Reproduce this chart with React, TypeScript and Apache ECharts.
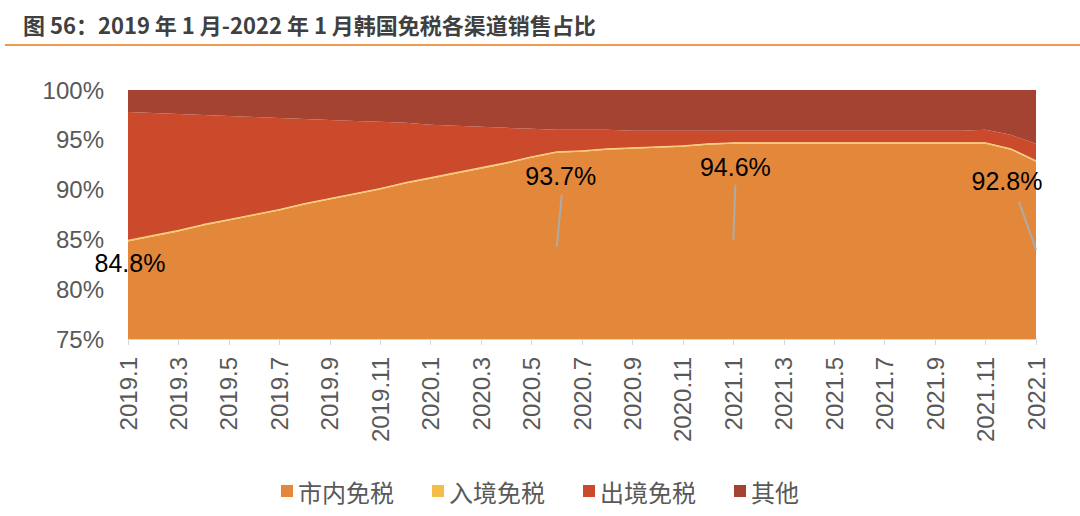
import React, { useEffect, useRef } from "react";
import * as echarts from "echarts";

const months: string[] = [
  "2019.1", "2019.2", "2019.3", "2019.4", "2019.5", "2019.6", "2019.7", "2019.8", "2019.9", "2019.10", "2019.11", "2019.12",
  "2020.1", "2020.2", "2020.3", "2020.4", "2020.5", "2020.6", "2020.7", "2020.8", "2020.9", "2020.10", "2020.11", "2020.12",
  "2021.1", "2021.2", "2021.3", "2021.4", "2021.5", "2021.6", "2021.7", "2021.8", "2021.9", "2021.10", "2021.11", "2021.12",
  "2022.1",
];

const cityDutyFree: number[] = [
  84.8, 85.3, 85.8, 86.4, 86.9, 87.4, 87.9, 88.5, 89.0, 89.5, 90.0, 90.6,
  91.1, 91.6, 92.1, 92.6, 93.2, 93.7, 93.8, 94.0, 94.1, 94.2, 94.3, 94.5,
  94.6, 94.6, 94.6, 94.6, 94.6, 94.6, 94.6, 94.6, 94.6, 94.6, 94.6, 94.0,
  92.8,
];
const arrivalDutyFree: number[] = [
  0.1, 0.1, 0.1, 0.1, 0.1, 0.1, 0.1, 0.1, 0.1, 0.1, 0.1, 0.1,
  0.1, 0.1, 0.1, 0.1, 0.1, 0.1, 0.1, 0.1, 0.1, 0.1, 0.1, 0.1,
  0.1, 0.1, 0.1, 0.1, 0.1, 0.1, 0.1, 0.1, 0.1, 0.1, 0.1, 0.1,
  0.1,
];
const departureDutyFree: number[] = [
  12.9, 12.3, 11.7, 11.0, 10.4, 9.8, 9.2, 8.5, 7.9, 7.3, 6.7, 6.0,
  5.3, 4.7, 4.1, 3.5, 2.8, 2.2, 2.1, 1.9, 1.7, 1.6, 1.5, 1.3,
  1.2, 1.2, 1.2, 1.2, 1.2, 1.2, 1.2, 1.2, 1.2, 1.2, 1.3, 1.4,
  1.7,
];
const others: number[] = [
  2.2, 2.3, 2.4, 2.5, 2.6, 2.7, 2.8, 2.9, 3.0, 3.1, 3.2, 3.3,
  3.5, 3.6, 3.7, 3.8, 3.9, 4.0, 4.0, 4.0, 4.1, 4.1, 4.1, 4.1,
  4.1, 4.1, 4.1, 4.1, 4.1, 4.1, 4.1, 4.1, 4.1, 4.1, 4.0, 4.5,
  5.4,
];

const seriesNames: string[] = ["市内免税", "入境免税", "出境免税", "其他"];
const colors: string[] = ["#E3883B", "#F2BE47", "#CB4A2B", "#A54333"];
const yTicks: number[] = [75, 80, 85, 90, 95, 100];
const labeledIdx: number[] = [0, 17, 24, 36];

const titleText = "图 56：2019 年 1 月-2022 年 1 月韩国免税各渠道销售占比";
const latin = '"Liberation Sans", Arial, "Noto Sans CJK SC", sans-serif';
const cjk = '"Noto Sans CJK SC", "Liberation Sans", sans-serif';

export default function App() {
  const ref = useRef<HTMLDivElement>(null);
  useEffect(() => {
    if (!ref.current) return;
    const chart = echarts.init(ref.current, undefined, { renderer: "svg" });
    const all = [cityDutyFree, arrivalDutyFree, departureDutyFree, others];
    chart.setOption({
      animation: false,
      backgroundColor: "#fff",
      title: {
        text: titleText,
        left: 18,
        top: 8,
        textStyle: { fontSize: 22, fontWeight: "bold", color: "#404040", fontFamily: cjk },
      },
      legend: {
        bottom: 8,
        left: "center",
        itemWidth: 12,
        itemHeight: 12,
        itemGap: 38,
        icon: "rect",
        data: seriesNames,
        textStyle: { fontSize: 24, color: "#595959", fontFamily: cjk },
      },
      grid: { left: 128, right: 44, top: 90, bottom: 177, containLabel: false },
      xAxis: {
        type: "category",
        data: months,
        boundaryGap: false,
        axisLine: { lineStyle: { color: "#D9D9D9", width: 1 } },
        axisTick: { show: true, interval: 1, length: 6, lineStyle: { color: "#D0D8E0" } },
        axisLabel: {
          interval: 1,
          rotate: 90,
          margin: 18,
          fontSize: 24,
          color: "#595959",
          fontFamily: latin,
        },
        splitLine: { show: false },
      },
      yAxis: {
        type: "value",
        min: yTicks[0],
        max: yTicks[yTicks.length - 1],
        interval: 5,
        axisLine: { show: false },
        axisTick: { show: false },
        splitLine: { show: false },
        axisLabel: { formatter: "{value}%", fontSize: 24, color: "#595959", margin: 24, fontFamily: latin },
      },
      series: seriesNames.map((name, i) => ({
        name,
        type: "line",
        stack: "total",
        data: all[i],
        symbol: "none",
        showSymbol: false,
        lineStyle: i === 1 ? { width: 1.2, color: "#F7CE86" } : { width: 0 },
        areaStyle: { color: colors[i], opacity: 1 },
        itemStyle: { color: colors[i] },
        z: i === 1 ? 3 : 2,
      })),
    });

    const labelOffsets: Record<number, number[]> = { 0: [2, 22], 17: [4, 23], 24: [2, 23], 36: [-29, 19] };
    const leaders: Record<number, number[]> = {
      17: [5, 42, 0, 94],
      24: [2, 41, 0, 96],
      36: [-17, 40, 0, 88],
    };
    const graphics: any[] = [
      {
        type: "line",
        shape: { x1: 5, y1: 45, x2: 1080, y2: 45 },
        style: { stroke: "#EE9B52", lineWidth: 2 },
        silent: true,
      },
    ];
    labeledIdx.forEach((idx) => {
      const p = chart.convertToPixel({ xAxisIndex: 0, yAxisIndex: 0 }, [idx, cityDutyFree[idx]]) as number[];
      const lo = labelOffsets[idx];
      graphics.push({
        type: "text",
        x: p[0] + lo[0],
        y: p[1] + lo[1],
        z: 11,
        silent: true,
        style: {
          text: `${cityDutyFree[idx].toFixed(1)}%`,
          fontSize: 25,
          fontFamily: latin,
          fill: "#000",
          align: "center",
          verticalAlign: "middle",
        },
      });
      const o = leaders[idx];
      if (o) {
        graphics.push({
          type: "line",
          shape: { x1: p[0] + o[0], y1: p[1] + o[1], x2: p[0] + o[2], y2: p[1] + o[3] },
          style: { stroke: "#ABABAB", lineWidth: 2 },
          z: 10,
          silent: true,
        });
      }
    });
    chart.setOption({ graphic: graphics });
    return () => chart.dispose();
  }, []);
  return <div ref={ref} style={{ position: "fixed", left: 0, top: 0, width: 1080, height: 516 }} />;
}
